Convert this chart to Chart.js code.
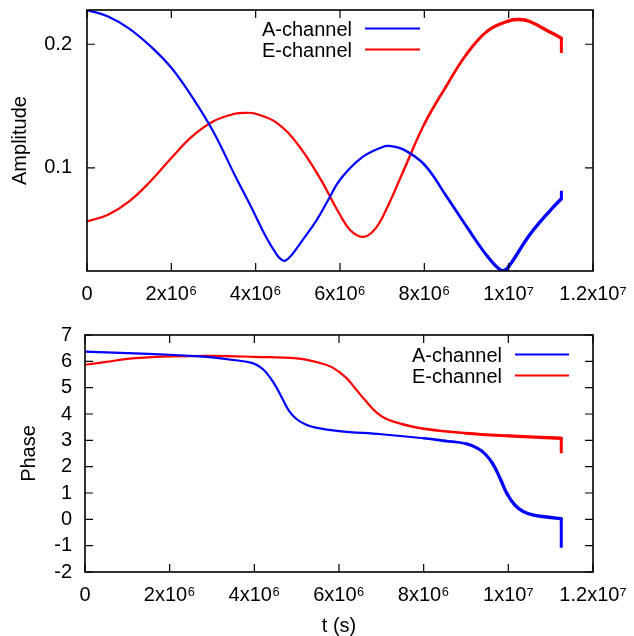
<!DOCTYPE html>
<html>
<head>
<meta charset="utf-8">
<script src="https://cdn.jsdelivr.net/npm/chart.js@4"></script>
<style>
  html, body { margin: 0; padding: 0; background: #fff; }
  #wrap { position: relative; width: 634px; height: 636px; }
  canvas { position: absolute; left: 0; }
  #ampCanvas { top: 0; }
  #phaseCanvas { top: 318px; }
</style>
</head>
<body>
<div id="wrap">
  <canvas id="ampCanvas" width="634" height="318"></canvas>
  <canvas id="phaseCanvas" width="634" height="318"></canvas>
</div>
<script>
// -------------------
// DATA
// -------------------
const timeTicks = [0, 2e6, 4e6, 6e6, 8e6, 1e7, 1.2e7];
const timeTickLabels = ["0", "2x10⁶", "4x10⁶", "6x10⁶", "8x10⁶", "1x10⁷", "1.2x10⁷"];
const ampTicks = [0.1, 0.2];
const phaseTicks = [-2, -1, 0, 1, 2, 3, 4, 5, 6, 7];

// amplitude, A-channel (last sample is the jump at the end)
const ampTimeA = [0, 0.5e6, 1e6, 1.5e6, 2e6, 2.5e6, 3e6, 3.5e6, 3.87e6, 4.25e6, 4.5e6, 4.6e6, 4.7e6, 4.85e6, 5.13e6, 5.45e6, 5.72e6, 6e6, 6.5e6,
  7e6, 7.17e6, 7.5e6, 8e6, 8.5e6, 9e6, 9.5e6, 9.85e6, 10e6, 10.5e6, 11e6, 11.25e6, 11.25e6];
const ampA = [0.2277, 0.2225, 0.2127, 0.1986, 0.181, 0.157, 0.129, 0.0946, 0.0701, 0.044, 0.030, 0.0262, 0.025, 0.0295, 0.0424, 0.058, 0.0741, 0.0905, 0.108,
  0.1168, 0.1178, 0.115, 0.1027, 0.0784, 0.0527, 0.0284, 0.0167, 0.0203, 0.046, 0.0662, 0.0751, 0.0816];

// amplitude, E-channel
const ampTimeE = [0, 0.5e6, 1e6, 1.5e6, 2e6, 2.5e6, 3e6, 3.5e6, 3.75e6, 4e6, 4.5e6, 5e6, 5.5e6, 6e6, 6.25e6, 6.55e6,
  6.85e6, 7.15e6, 7.5e6, 8e6, 8.5e6, 9e6, 9.5e6, 10e6, 10.25e6, 10.5e6, 11e6, 11.25e6, 11.25e6];
const ampE = [0.0568, 0.0622, 0.073, 0.089, 0.108, 0.1257, 0.1378, 0.1438, 0.1446, 0.1438, 0.1365, 0.119, 0.0932, 0.0622, 0.0495, 0.0443,
  0.0514, 0.0703, 0.0973, 0.1355, 0.165, 0.1919, 0.2108, 0.2189, 0.22, 0.2184, 0.2095, 0.2049, 0.193];

// phase, A-channel
const phaseTimeA = [0, 1e6, 2e6, 2.7e6, 3e6, 3.5e6, 3.96e6, 4.2e6, 4.45e6, 4.67e6, 4.82e6, 4.98e6, 5.2e6, 5.45e6, 6e6, 7e6,
  8e6, 8.5e6, 9e6, 9.35e6, 9.62e6, 9.82e6, 9.97e6, 10.15e6, 10.35e6, 10.6e6, 10.9e6, 11.25e6, 11.25e6];
const phaseA = [6.365, 6.31, 6.25, 6.19, 6.15, 6.05, 5.93, 5.71, 5.2, 4.56, 4.12, 3.83, 3.61, 3.48, 3.35, 3.23,
  3.08, 2.98, 2.87, 2.62, 2.14, 1.5, 0.97, 0.55, 0.3, 0.16, 0.09, 0.02, -1.08];

// phase, E-channel
const phaseTimeE = [0, 0.5e6, 1e6, 1.5e6, 2e6, 3e6, 4e6, 5e6, 5.5e6, 5.84e6, 6.16e6, 6.4e6, 6.63e6, 6.87e6, 7.1e6, 7.5e6,
  8e6, 9e6, 10e6, 11.25e6, 11.25e6];
const phaseE = [5.87, 5.98, 6.09, 6.15, 6.19, 6.21, 6.17, 6.11, 5.96, 5.77, 5.39, 4.94, 4.5, 4.08, 3.83, 3.61,
  3.44, 3.27, 3.17, 3.08, 2.51];

// -------------------
// STYLE
// -------------------
const FONT = '"Liberation Sans", Arial, Helvetica, sans-serif';
const BLUE = "#0000ff";
const RED = "#ff0000";
Chart.defaults.font.family = FONT;
Chart.defaults.font.size = 20;
Chart.defaults.color = "#000";

const toPoints = (xs, ys) => xs.map((x, i) => ({ x: x, y: ys[i] }));

// line gets a bit heavier towards the end of the run (dense samples in the original)
const widthAt = x => 2.2 + Math.min(Math.max((x - 7e6) / 3e6, 0), 1) * 1.2;

// gnuplot-like border with inward ticks on all four sides
const frameTicks = {
  id: "frameTicks",
  afterDatasetsDraw(chart, args, opts) {
    const { ctx, chartArea: a, scales: { x, y } } = chart;
    const len = opts.len || 8;
    ctx.save();
    ctx.strokeStyle = "#000";
    ctx.lineWidth = 1.2;
    ctx.beginPath();
    x.ticks.forEach(t => {
      const p = x.getPixelForValue(t.value);
      ctx.moveTo(p, a.bottom); ctx.lineTo(p, a.bottom - len);
      ctx.moveTo(p, a.top); ctx.lineTo(p, a.top + len);
    });
    y.ticks.forEach(t => {
      const p = y.getPixelForValue(t.value);
      ctx.moveTo(a.left, p); ctx.lineTo(a.left + len, p);
      ctx.moveTo(a.right, p); ctx.lineTo(a.right - len, p);
    });
    ctx.stroke();
    ctx.lineWidth = 1.6;
    ctx.strokeRect(a.left, a.top, a.right - a.left, a.bottom - a.top);
    ctx.restore();
  }
};

// key: text first, line sample after it
const gnuKey = {
  id: "gnuKey",
  afterDatasetsDraw(chart, args, o) {
    const ctx = chart.ctx;
    ctx.save();
    ctx.font = "20px " + FONT;
    ctx.fillStyle = "#000";
    ctx.textAlign = "right";
    ctx.textBaseline = "middle";
    chart.data.datasets.filter(ds => ds.inKey).forEach((ds, i) => {
      const ty = o.top + i * o.step;
      ctx.fillText(ds.label, o.textRight, ty);
      ctx.strokeStyle = ds.borderColor;
      ctx.lineWidth = 2.2;
      ctx.beginPath();
      ctx.moveTo(o.lineFrom, ty - 1.5);
      ctx.lineTo(o.lineTo, ty - 1.5);
      ctx.stroke();
    });
    ctx.restore();
  }
};

// main smooth curve + the straight jump at the very end
function series(label, color, xs, ys) {
  const main = {
    label: label,
    inKey: true,
    data: toPoints(xs.slice(0, -1), ys.slice(0, -1)),
    borderColor: color,
    borderWidth: 2.2,
    borderCapStyle: "round",
    borderJoinStyle: "round",
    pointRadius: 0,
    fill: false,
    tension: 0.4,
    segment: { borderWidth: c => widthAt(c.p0.parsed.x) }
  };
  const tail = {
    label: label,
    inKey: false,
    data: toPoints(xs.slice(-2), ys.slice(-2)),
    borderColor: color,
    borderWidth: 3,
    pointRadius: 0,
    fill: false,
    tension: 0
  };
  return [main, tail];
}

function makeChart(id, datasets, y, layout) {
  return new Chart(document.getElementById(id), {
    type: "line",
    data: { datasets: datasets },
    options: {
      responsive: false,
      animation: false,
      devicePixelRatio: 1,
      layout: { padding: { left: 0, right: 41, top: layout.top, bottom: 0 } },
      plugins: {
        legend: { display: false },
        tooltip: { enabled: false },
        frameTicks: { len: 8 },
        gnuKey: layout.key
      },
      scales: {
        x: {
          type: "linear",
          min: 0,
          max: 1.2e7,
          grid: { display: false, drawTicks: false },
          border: { display: false },
          afterBuildTicks: s => { s.ticks = timeTicks.map(v => ({ value: v })); },
          afterFit: s => { s.height = layout.xHeight; s.paddingLeft = 0; s.paddingRight = 0; },
          ticks: {
            autoSkip: false,
            maxRotation: 0,
            padding: 11,
            font: { size: 20, lineHeight: 1.2 },
            callback: (v, i) => timeTickLabels[i]
          },
          title: layout.xTitle
        },
        y: {
          type: "linear",
          min: y.min,
          max: y.max,
          grid: { display: false, drawTicks: false },
          border: { display: false },
          afterBuildTicks: s => { s.ticks = y.ticks.map(v => ({ value: v })); },
          afterFit: s => { s.width = layout.yWidth; s.paddingTop = 0; s.paddingBottom = 0; },
          ticks: {
            padding: layout.yPad,
            font: { size: 20, lineHeight: 1 },
            callback: v => String(v)
          },
          title: {
            display: true,
            text: y.title,
            font: { size: 20, lineHeight: 1.2 },
            padding: { top: layout.yTitlePad, bottom: 0 }
          }
        }
      }
    },
    plugins: [frameTicks, gnuKey]
  });
}

// -------------------
// AMPLITUDE
// -------------------
makeChart("ampCanvas",
  [...series("A-channel", BLUE, ampTimeA, ampA), ...series("E-channel", RED, ampTimeE, ampE)],
  { min: 0.0167, max: 0.2277, ticks: ampTicks, title: "Amplitude" },
  {
    top: 10, xHeight: 47, yWidth: 87, yPad: 15, yTitlePad: 8,
    xTitle: { display: false },
    key: { textRight: 352, lineFrom: 365, lineTo: 420, top: 30, step: 21 }
  });

// -------------------
// PHASE
// -------------------
makeChart("phaseCanvas",
  [...series("A-channel", BLUE, phaseTimeA, phaseA), ...series("E-channel", RED, phaseTimeE, phaseE)],
  { min: -2, max: 7, ticks: phaseTicks, title: "Phase" },
  {
    top: 17, xHeight: 64, yWidth: 85, yPad: 13, yTitlePad: 17,
    xTitle: { display: true, text: "t (s)", font: { size: 20, lineHeight: 1 }, padding: { top: 0, bottom: 0 } },
    key: { textRight: 502, lineFrom: 515, lineTo: 569, top: 38, step: 21 }
  });
</script>
</body>
</html>
